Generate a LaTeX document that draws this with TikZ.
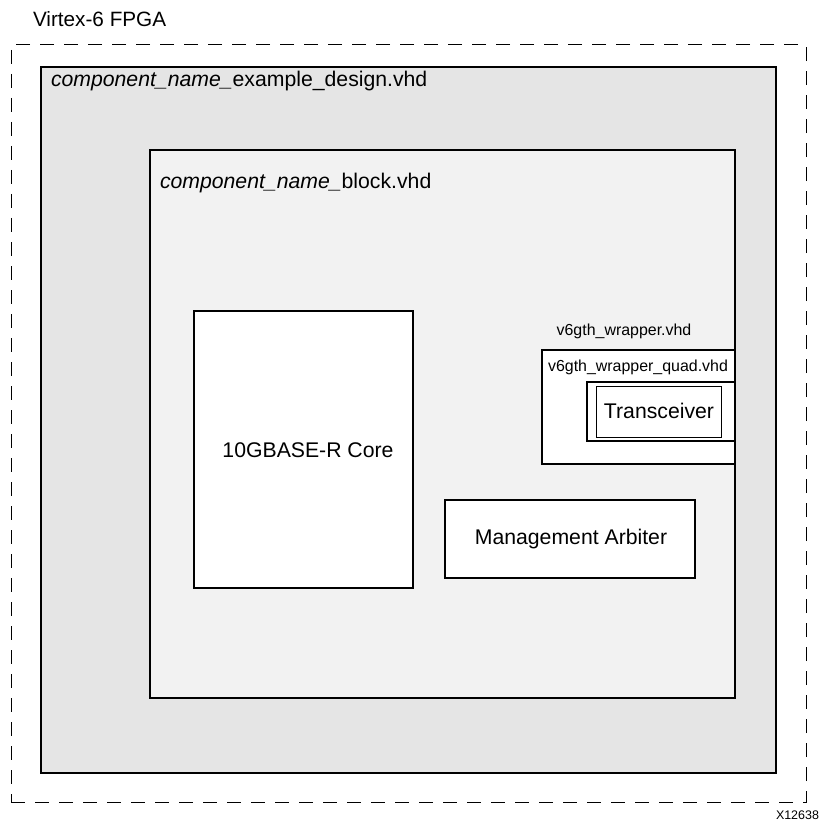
\documentclass[tikz,border=0pt]{standalone}
\usepackage{fontspec}
\setmainfont{Liberation Sans}
\begin{document}
\begin{tikzpicture}[x=1bp,y=-1bp,
  every node/.style={inner sep=0pt, outer sep=0pt},
  blk/.style={draw=black, rectangle, anchor=north west},
  big/.style={font=\fontsize{21.3}{25}\selectfont},
  small/.style={font=\fontsize{16}{19}\selectfont}]
\useasboundingbox (0,0) rectangle (819,820);
% outer dashed FPGA boundary
\node[draw=black, line width=1bp, dash pattern=on 14bp off 10bp, rectangle, anchor=north west,
  minimum width=795bp, minimum height=757bp] (fpga) at (11,45) {};
\node[font=\fontsize{20.8}{24}\selectfont, anchor=base west] (fpgalbl) at (33,27) {Virtex-6 FPGA};
% example design
\node[blk, line width=2.8bp, fill=black!10, minimum width=735bp, minimum height=706bp] (ex) at (41,67) {};
\node[big, anchor=base west] (exlbl) at (51,86) {\itshape component\_name\_\upshape example\_design.vhd};
% block
\node[blk, line width=2.4bp, fill=black!5, minimum width=585bp, minimum height=548bp] (bk) at (150,150) {};
\node[big, anchor=base west] (bklbl) at (160,188) {\itshape component\_name\_\upshape block.vhd};
% core
\node[blk, line width=2bp, fill=white, minimum width=219bp, minimum height=277bp] (core) at (194,311) {};
\node[big] (corelbl) at (308,450) {10GBASE-R Core};
% management arbiter
\node[blk, line width=2bp, fill=white, minimum width=250bp, minimum height=78bp] (mgmt) at (445,500) {};
\node[big] (mgmtlbl) at (571,539) {Management Arbiter};
% wrapper
\node[small, anchor=base] (wraplbl) at (624,335) {v6gth\_wrapper.vhd};
\node[blk, line width=2.4bp, fill=white, minimum width=193bp, minimum height=114bp] (quad) at (542,350) {};
\node[small, anchor=base] (quadlbl) at (638,371) {v6gth\_wrapper\_quad.vhd};
\node[blk, line width=2.4bp, fill=white, minimum width=148bp, minimum height=59bp] (tro) at (587,382) {};
\node[blk, line width=0.9bp, fill=white, minimum width=125bp, minimum height=51bp] (tri) at (596,386) {};
\node[big] (trlbl) at (659,411) {Transceiver};
% figure id
\node[font=\fontsize{12.5}{15}\selectfont, anchor=base west] (fig) at (776,819) {X12638};
\end{tikzpicture}
\end{document}
